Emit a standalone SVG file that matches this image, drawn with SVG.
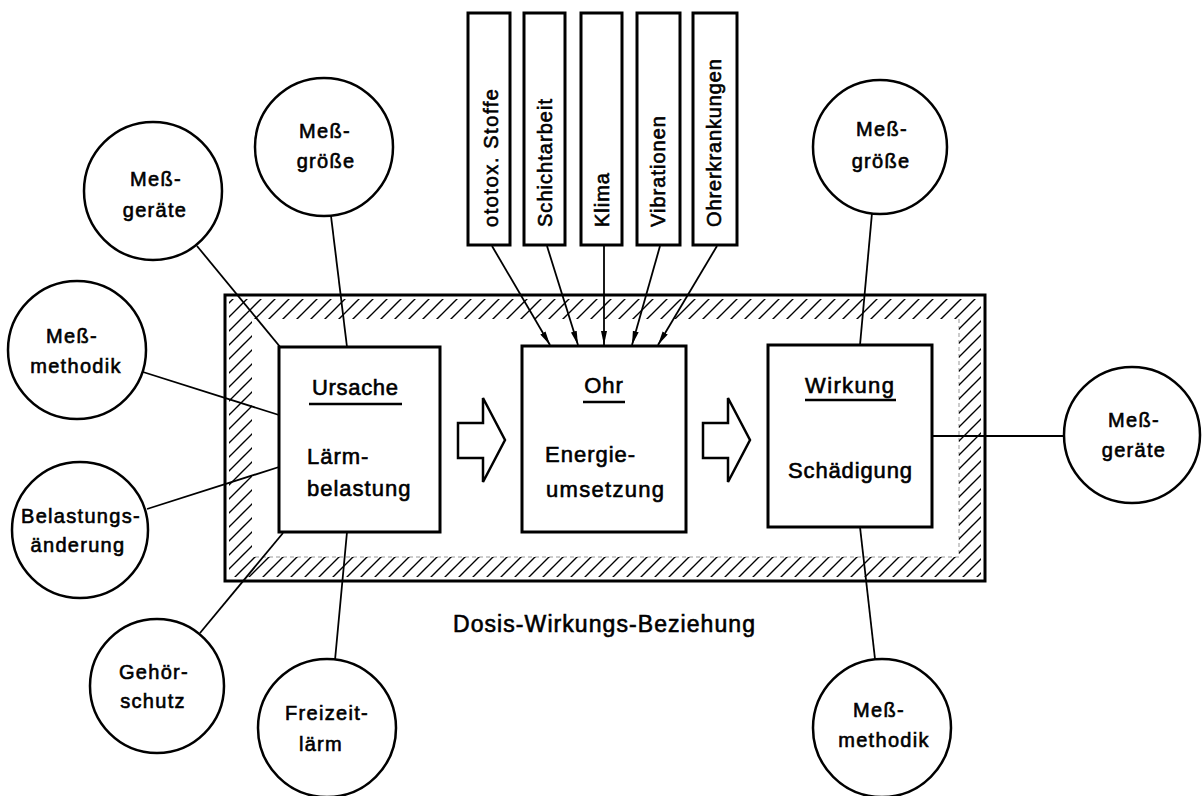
<svg xmlns="http://www.w3.org/2000/svg" width="1203" height="796" viewBox="0 0 1203 796">
<style>
text{font-family:"Liberation Sans",Arial,sans-serif;fill:#000;stroke:#000;stroke-width:0.6px}
.box{fill:#fff;stroke:#000;stroke-width:3}
.circ{fill:#fff;stroke:#000;stroke-width:2.5}
.con{stroke:#000;stroke-width:1.8;fill:none}
.ct{font-size:20px;letter-spacing:1.3px;text-anchor:middle}
.bt{font-size:22px;letter-spacing:1px}
.vt{font-size:20px;letter-spacing:1px}
.ul{stroke:#000;stroke-width:2.5}
.blk{fill:#fff;stroke:#000;stroke-width:2.5;stroke-linejoin:miter}
</style>
<defs>
<pattern id="hatch" patternUnits="userSpaceOnUse" width="14" height="14">
<path d="M-2,2 L2,-2 M0,14 L14,0 M12,16 L16,12" stroke="#000" stroke-width="1.4"/>
</pattern>
<marker id="ah" viewBox="0 0 14 8" refX="14" refY="4" markerWidth="14" markerHeight="8" markerUnits="userSpaceOnUse" orient="auto">
<path d="M0,1 L14,4 L0,7 Z" fill="#000"/>
</marker>
</defs>
<rect width="1203" height="796" fill="#fff"/>

<g id="frame">
<path d="M229,299 H981 V577 H229 Z M252,319 V557 H959 V319 Z" fill="url(#hatch)" fill-rule="evenodd"/>
<rect x="225" y="295" width="760" height="286" fill="none" stroke="#000" stroke-width="3"/>
<path d="M959,319 V557 H252" fill="none" stroke="#000" stroke-width="0.8" stroke-dasharray="4 3" opacity="0.5"/>
</g>

<g id="connectors">
<line class="con" x1="197" y1="246" x2="281" y2="348"/>
<line class="con" x1="331" y1="216" x2="347" y2="347"/>
<line class="con" x1="143" y1="372" x2="279" y2="415"/>
<line class="con" x1="147" y1="509" x2="279" y2="467"/>
<line class="con" x1="200" y1="633" x2="283" y2="533"/>
<line class="con" x1="335" y1="660" x2="347" y2="532"/>
<line class="con" x1="872" y1="213" x2="860" y2="345"/>
<line class="con" x1="932" y1="436" x2="1064" y2="436"/>
<line class="con" x1="875" y1="659" x2="860" y2="527"/>
<line class="con" x1="492" y1="246" x2="550" y2="345" marker-end="url(#ah)"/>
<line class="con" x1="547" y1="246" x2="578" y2="345" marker-end="url(#ah)"/>
<line class="con" x1="604" y1="246" x2="604" y2="345" marker-end="url(#ah)"/>
<line class="con" x1="660" y1="246" x2="632" y2="345" marker-end="url(#ah)"/>
<line class="con" x1="717" y1="246" x2="658" y2="345" marker-end="url(#ah)"/>
</g>

<g id="ursache">
<rect class="box" x="279" y="347" width="161" height="185"/>
<text class="bt" x="312" y="395" textLength="87">Ursache</text>
<line class="ul" x1="309" y1="404" x2="402" y2="404"/>
<text class="bt" x="307" y="464">Lärm-</text>
<text class="bt" x="307" y="496">belastung</text>
</g>

<g id="ohr">
<rect class="box" x="522" y="346" width="164" height="186"/>
<text class="bt" x="604" y="393" text-anchor="middle">Ohr</text>
<line class="ul" x1="583" y1="402" x2="625" y2="402"/>
<text class="bt" x="545" y="462">Energie-</text>
<text class="bt" x="546" y="497" textLength="119">umsetzung</text>
</g>

<g id="wirkung">
<rect class="box" x="768" y="345" width="164" height="182"/>
<text class="bt" x="805" y="393" textLength="90">Wirkung</text>
<line class="ul" x1="805" y1="400" x2="896" y2="400"/>
<text class="bt" x="788" y="478" textLength="125">Schädigung</text>
</g>

<g id="arrow1">
<path class="blk" d="M458,423 H483 V398 L505,440 L483,482 V458 H458 Z"/>
</g>
<g id="arrow2">
<path class="blk" d="M703,423 H728 V398 L750,440 L728,482 V458 H703 Z"/>
</g>

<g id="ototox">
<rect class="box" x="468" y="13" width="42" height="232"/>
<text class="vt" transform="translate(498,227) rotate(-90)" textLength="139">ototox. Stoffe</text>
</g>
<g id="schichtarbeit">
<rect class="box" x="524" y="13" width="41" height="232"/>
<text class="vt" transform="translate(552,227) rotate(-90)" textLength="129">Schichtarbeit</text>
</g>
<g id="klima">
<rect class="box" x="581" y="13" width="41" height="232"/>
<text class="vt" transform="translate(609,227) rotate(-90)" textLength="55">Klima</text>
</g>
<g id="vibrationen">
<rect class="box" x="637" y="13" width="43" height="232"/>
<text class="vt" transform="translate(665,227) rotate(-90)" textLength="112">Vibrationen</text>
</g>
<g id="ohrerkrankungen">
<rect class="box" x="693" y="13" width="44" height="232"/>
<text class="vt" transform="translate(721,227) rotate(-90)" textLength="169">Ohrerkrankungen</text>
</g>

<g id="c-messgeraete-l">
<circle class="circ" cx="153" cy="191" r="69"/>
<text class="ct" x="156" y="186">Meß-</text>
<text class="ct" x="155" y="217">geräte</text>
</g>
<g id="c-messgroesse-l">
<circle class="circ" cx="324" cy="147" r="69"/>
<text class="ct" x="325" y="138">Meß-</text>
<text class="ct" x="326" y="168">größe</text>
</g>
<g id="c-messmethodik-l">
<circle class="circ" cx="77" cy="350" r="69"/>
<text class="ct" x="72" y="343">Meß-</text>
<text class="ct" x="76" y="373">methodik</text>
</g>
<g id="c-belastung">
<circle class="circ" cx="80" cy="530" r="68"/>
<text class="ct" x="81" y="523">Belastungs-</text>
<text class="ct" x="78" y="552">änderung</text>
</g>
<g id="c-gehoerschutz">
<circle class="circ" cx="157" cy="686" r="67"/>
<text class="ct" x="154" y="679">Gehör-</text>
<text class="ct" x="153" y="708">schutz</text>
</g>
<g id="c-freizeit">
<circle class="circ" cx="327" cy="728" r="69"/>
<text class="ct" x="327" y="720">Freizeit-</text>
<text class="ct" x="321" y="751">lärm</text>
</g>
<g id="c-messgroesse-r">
<circle class="circ" cx="880" cy="147" r="67"/>
<text class="ct" x="882" y="136">Meß-</text>
<text class="ct" x="881" y="168">größe</text>
</g>
<g id="c-messgeraete-r">
<circle class="circ" cx="1132" cy="435" r="68"/>
<text class="ct" x="1134" y="427">Meß-</text>
<text class="ct" x="1134" y="457">geräte</text>
</g>
<g id="c-messmethodik-r">
<circle class="circ" cx="882" cy="728" r="69"/>
<text class="ct" x="879" y="717">Meß-</text>
<text class="ct" x="884" y="747">methodik</text>
</g>

<text x="453" y="632" font-size="23" textLength="302" lengthAdjust="spacing">Dosis-Wirkungs-Beziehung</text>
</svg>
